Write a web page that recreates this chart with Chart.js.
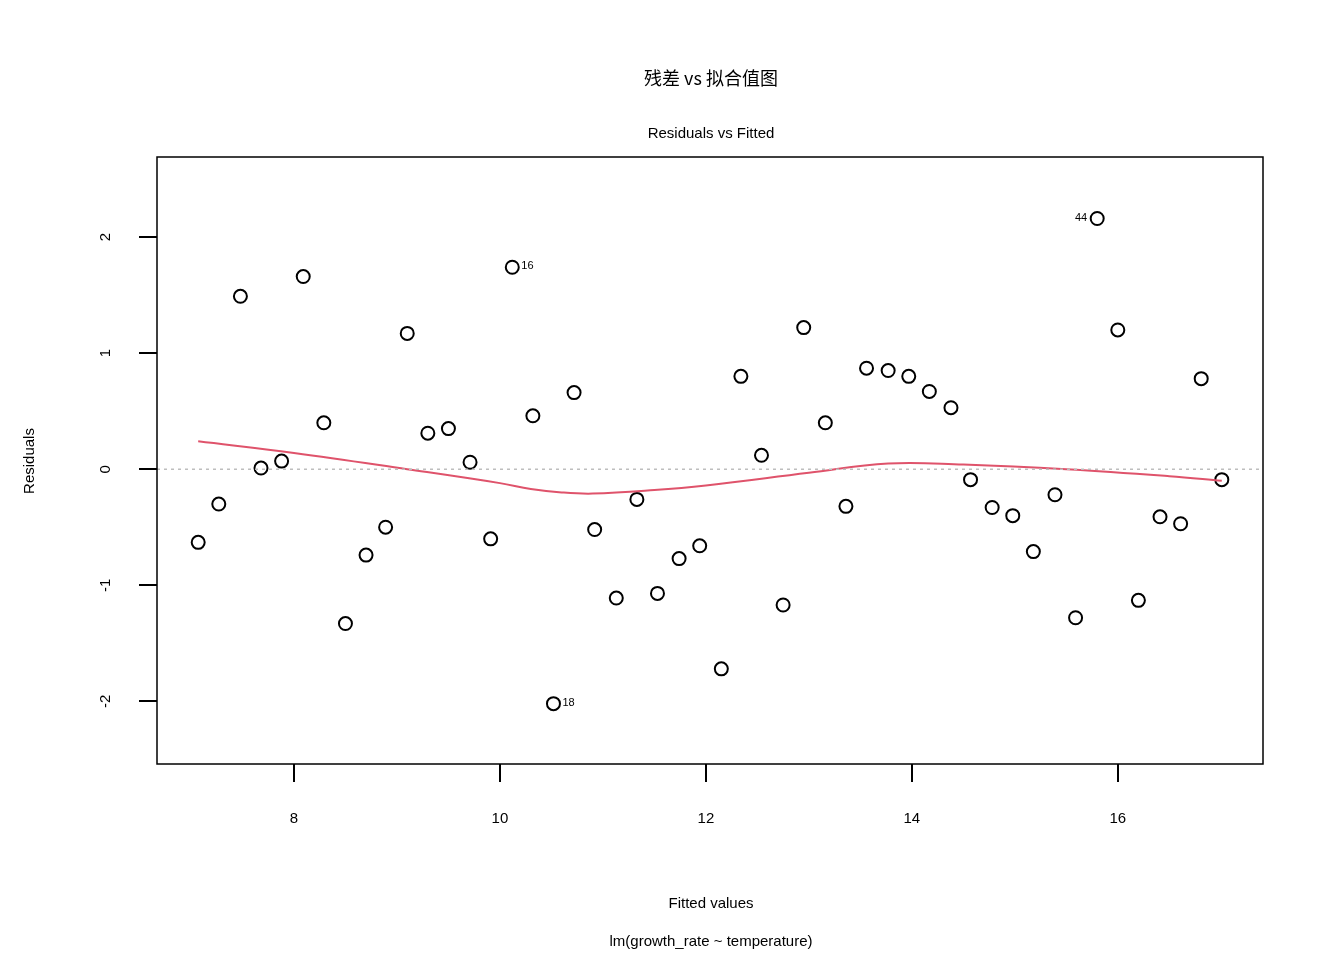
<!DOCTYPE html>
<html>
<head>
<meta charset="utf-8">
<script src="https://cdn.jsdelivr.net/npm/chart.js@4"></script>
<style>body{margin:0;background:#fff}canvas{display:block}</style>
</head>
<body>
<div style="width:1344px;height:960px"><canvas id="c"></canvas></div>
<script>
const fitted = [7.07,7.27,7.48,7.68,7.88,8.09,8.29,8.50,8.70,8.89,9.10,9.30,9.50,9.71,9.91,10.12,10.32,10.52,10.72,10.92,
  11.13,11.33,11.53,11.74,11.94,12.15,12.34,12.54,12.75,12.95,13.16,13.36,13.56,13.77,13.97,14.17,14.38,14.57,14.78,14.98,
  15.18,15.39,15.59,15.80,16.00,16.20,16.41,16.61,16.81,17.01];
const residuals = [-0.63,-0.30,1.49,0.01,0.07,1.66,0.40,-1.33,-0.74,-0.50,1.17,0.31,0.35,0.06,-0.60,1.74,0.46,-2.02,0.66,-0.52,
  -1.11,-0.26,-1.07,-0.77,-0.66,-1.72,0.80,0.12,-1.17,1.22,0.40,-0.32,0.87,0.85,0.80,0.67,0.53,-0.09,-0.33,-0.40,
  -0.71,-0.22,-1.28,2.16,1.20,-1.13,-0.41,-0.47,0.78,-0.09];
const smoothX = [7.07,8.0,9.1,10.0,10.3,10.6,10.9,11.5,12.0,13.0,13.77,14.5,15.5,16.5,17.01];
const smoothY = [0.24,0.14,0.0,-0.12,-0.17,-0.20,-0.21,-0.18,-0.14,-0.03,0.05,0.04,0.0,-0.06,-0.10];
const labelled = [{i:15,t:'16',side:'r'},{i:17,t:'18',side:'r'},{i:43,t:'44',side:'l'}];
const xTicks = [8,10,12,14,16];
const yTicks = [-2,-1,0,1,2];

const font = '"Liberation Sans", Arial, sans-serif';

const textPlugin = {
  id: 'texts',
  afterDraw(chart) {
    const ctx = chart.ctx, a = chart.chartArea, y = chart.scales.y, x = chart.scales.x;
    ctx.save();
    ctx.strokeStyle = '#000'; ctx.lineWidth = 1.5;
    ctx.strokeRect(a.left, a.top, a.right - a.left, a.bottom - a.top);
    ctx.fillStyle = '#000'; ctx.textAlign = 'center'; ctx.textBaseline = 'middle';
    ctx.font = '18px "Noto Sans CJK SC", ' + font;
    ctx.fillText('残差 vs 拟合值图', 711, 78);
    ctx.font = '15px ' + font;
    ctx.fillText('Residuals vs Fitted', 711, 134);
    ctx.fillText('Fitted values', 711, 904);
    ctx.fillText('lm(growth_rate ~ temperature)', 711, 942);
    ctx.save(); ctx.translate(30, 461); ctx.rotate(-Math.PI/2); ctx.fillText('Residuals', 0, 0); ctx.restore();
    yTicks.forEach(v => {
      const py = y.getPixelForValue(v);
      ctx.save(); ctx.translate(106, py); ctx.rotate(-Math.PI/2); ctx.fillText(String(v), 0, 0); ctx.restore();
    });
    ctx.font = '11px ' + font;
    labelled.forEach(l => {
      const px = x.getPixelForValue(fitted[l.i]), py = y.getPixelForValue(residuals[l.i]);
      ctx.textAlign = l.side === 'r' ? 'left' : 'right';
      ctx.fillText(l.t, l.side === 'r' ? px + 9 : px - 10, py - 1);
    });
    ctx.restore();
  }
};

new Chart(document.getElementById('c'), {
  type: 'scatter',
  data: {
    datasets: [
      {
        type: 'line', data: [{x: 6.67, y: 0}, {x: 17.41, y: 0}],
        borderColor: '#bebebe', borderDash: [3, 4], borderWidth: 1.5, pointRadius: 0
      },
      {
        type: 'line', data: smoothX.map((v, i) => ({x: v, y: smoothY[i]})),
        borderColor: '#DF536B', borderWidth: 2, pointRadius: 0, tension: 0.4
      },
      {
        data: fitted.map((v, i) => ({x: v, y: residuals[i]})),
        pointRadius: 6.5, pointBorderWidth: 2, borderColor: '#000', backgroundColor: 'rgba(0,0,0,0)'
      }
    ]
  },
  options: {
    responsive: true, maintainAspectRatio: false, animation: false,
    layout: {padding: {top: 157, right: 81, left: 0, bottom: 0}},
    plugins: {legend: {display: false}, tooltip: {enabled: false}},
    scales: {
      x: {
        type: 'linear', min: 6.67, max: 17.41,
        afterBuildTicks(s) { s.ticks = xTicks.map(v => ({value: v})); },
        afterFit(s) { s.height = 196; },
        grid: {drawOnChartArea: false, tickLength: 18, color: '#000', lineWidth: 2},
        border: {display: false},
        ticks: {color: '#000', font: {family: font, size: 15}, padding: 28, maxRotation: 0}
      },
      y: {
        min: -2.54, max: 2.69,
        afterBuildTicks(s) { s.ticks = yTicks.map(v => ({value: v})); },
        afterFit(s) { s.width = 157; },
        grid: {drawOnChartArea: false, tickLength: 18, color: '#000', lineWidth: 2},
        border: {display: false},
        ticks: {display: false}
      }
    }
  },
  plugins: [textPlugin]
});
</script>
</body>
</html>
